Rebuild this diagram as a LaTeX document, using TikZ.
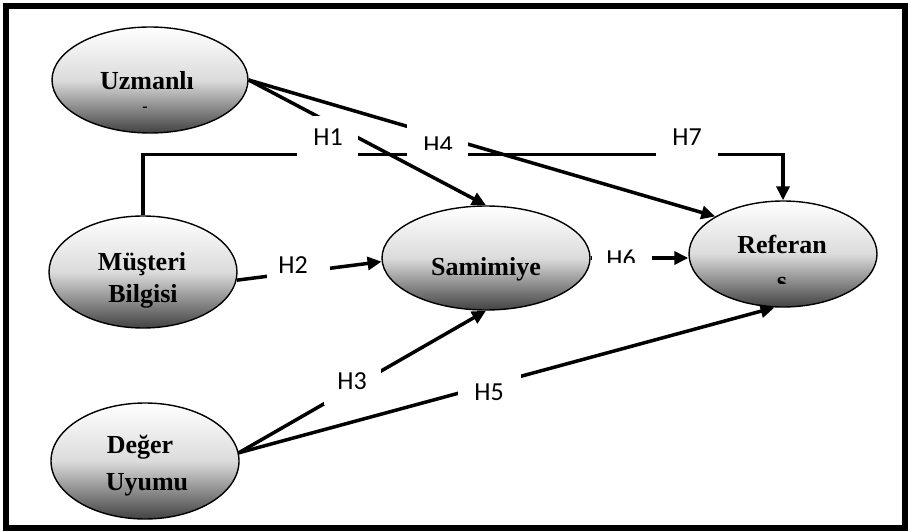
\documentclass[tikz,border=0pt]{standalone}
\usepackage{fontspec}
\setmainfont{Liberation Serif}
\newfontfamily\lblfont{Carlito}
\usetikzlibrary{shapes.geometric,arrows.meta}
\begin{document}
\begin{tikzpicture}[x=1pt,y=-1pt,
  ell/.style={ellipse, draw=black, line width=1.4pt, inner sep=0pt,
    top color=white, bottom color=black!74, middle color=black!14},
  txt/.style={font=\fontsize{26}{30}\selectfont\bfseries, anchor=base, inner sep=0pt},
  lbl/.style={font=\lblfont\fontsize{26}{30}\selectfont, anchor=base, inner sep=0pt},
  gapbox/.style={fill=white, inner sep=0pt},
  arr/.style={line width=3.5pt, -{Triangle[length=14pt,width=13pt]}},
  ln/.style={line width=3.5pt}]
\useasboundingbox (0,0) rectangle (908,532);

% constructs
\node[ell, minimum width=196pt, minimum height=106pt] (uz) at (150,80) {};
\node[ell, minimum width=188pt, minimum height=112pt] (mb) at (143,272) {};
\node[ell, minimum width=188pt, minimum height=116pt] (du) at (145,461) {};
\node[ell, minimum width=208pt, minimum height=104pt] (sa) at (486,258) {};
\node[ell, minimum width=188pt, minimum height=106pt] (ref) at (783,254) {};

\node[txt] (uzt1) at (147,90) {Uzmanlı};
\node[txt, font=\fontsize{16}{18}\selectfont\bfseries] (uzt2) at (145,112) {-};
\node[txt] (mbt1) at (142,270) {Müşteri};
\node[txt] (mbt2) at (143,302) {Bilgisi};
\node[txt] (dut1) at (140,453) {Değer};
\node[txt] (dut2) at (147,490) {Uyumu};
\node[txt] (sat) at (486,275) {Samimiye};
\node[txt] (reft1) at (782,253) {Referan};
\begin{scope}
  \clip (740,260) rectangle (830,283);
  \node[txt] (reft2) at (782,289) {s};
\end{scope}

% connectors
\coordinate (dstart) at (du.5);
\draw[arr] (uz.east) -- (sa.north);                 % H1
\draw[arr] (mb.-5) -- (sa.182);                     % H2
\draw[arr] (dstart) -- (sa.south);                  % H3
\draw[arr] (uz.east) -- (ref.151);                  % H4
\draw[arr] (dstart) -- (ref.261);                   % H5
\draw[arr] (sa.east) -- (sa.east -| ref.west);      % H6
\draw[arr] (mb.north) -- ++(0,-61) -| (ref.north);  % H7

% label boxes
\node[gapbox, minimum width=61pt, minimum height=44pt] (b1) at (327.5,138) {};
\node[gapbox, minimum width=61pt, minimum height=38pt] (b4) at (437.5,139) {};
\node[gapbox, minimum width=62pt, minimum height=38pt] (b7) at (687,141) {};
\node[gapbox, minimum width=63pt, minimum height=45pt] (b2) at (298.5,267.5) {};
\node[gapbox, minimum width=60pt, minimum height=26pt] (b6) at (622,249) {};
\node[gapbox, minimum width=57pt, minimum height=43pt] (b3) at (352.5,383.5) {};
\node[gapbox, minimum width=63pt, minimum height=40pt] (b5) at (489.5,392) {};

% labels
\node[lbl] (h1) at (328,146) {H1};
\begin{scope}
  \clip (407,120) rectangle (468,150);
  \node[lbl] (h4) at (438,154) {H4};
\end{scope}
\node[lbl] (h7) at (687,146) {H7};
\node[lbl] (h2) at (293,273) {H2};
\begin{scope}
  \clip (592,236) rectangle (652,262);
  \node[lbl] (h6) at (621,267) {H6};
\end{scope}
\node[lbl] (h3) at (352,389) {H3};
\node[lbl] (h5) at (489,400) {H5};

% frame
\draw[line width=6pt] (6,6) rectangle (905,528);
\end{tikzpicture}
\end{document}
